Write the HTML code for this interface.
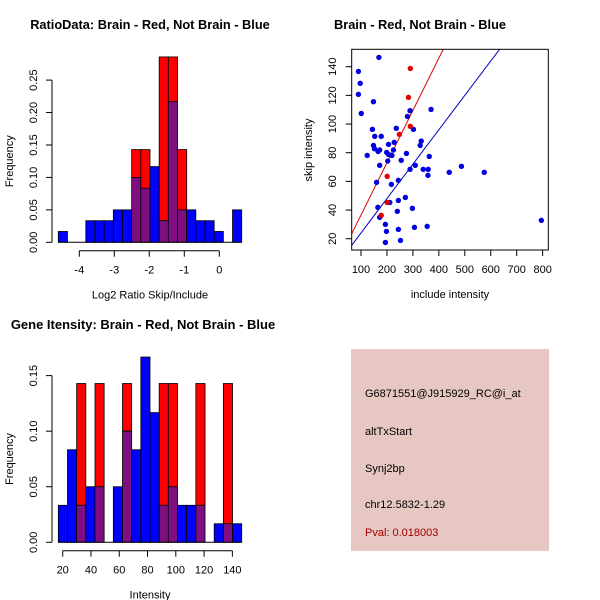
<!DOCTYPE html>
<html><head><meta charset="utf-8"><style>
body{margin:0;background:#fff}
svg{display:block;font-family:"Liberation Sans",sans-serif}
</style></head><body>
<svg id="c" width="600" height="600" viewBox="0 0 600 600">
<rect x="0" y="0" width="600" height="600" fill="#fff"/>
<text x="150" y="29" text-anchor="middle" font-size="12.8" font-weight="bold">RatioData: Brain - Red, Not Brain - Blue</text>
<text x="420" y="29" text-anchor="middle" font-size="12.8" font-weight="bold">Brain - Red, Not Brain - Blue</text>
<text x="143" y="329" text-anchor="middle" font-size="13" font-weight="bold">Gene Itensity: Brain - Red, Not Brain - Blue</text>
<g id="g1"></g>
<g id="g2"></g>
<g id="g3"></g>
<g>
<rect x="351" y="349" width="198" height="202" fill="#e6c7c1"/>
<text x="365" y="397" font-size="11">G6871551@J915929_RC@i_at</text>
<text x="365" y="435" font-size="11">altTxStart</text>
<text x="365" y="472" font-size="11">Synj2bp</text>
<text x="365" y="508" font-size="11">chr12.5832-1.29</text>
<text x="365" y="536" font-size="11" fill="#a00000">Pval: 0.018003</text>
</g>
</svg>
<script>
// Top histogram data
const h1Start = -4.6, h1Width = 0.262;
const h1Blue = [0.0167,0,0,0.0333,0.0333,0.0333,0.05,0.05,0.1,0.0833,0.1167,0.0333,0.2167,0.05,0.05,0.0333,0.0333,0.0167,0,0.05];
const h1Red  = [0,0,0,0,0,0,0,0,0.1429,0.1429,0,0.2857,0.2857,0.1429,0,0,0,0,0,0];
const h1YTicks = ["0.00","0.05","0.10","0.15","0.20","0.25"];
const h1XTicks = ["-4","-3","-2","-1","0"];
// Bottom histogram data
const h3Start = 16.9, h3Width = 6.485;
const h3Blue = [0.0333,0.0833,0.0333,0.05,0.05,0,0.05,0.1,0.0833,0.1667,0.1167,0.0333,0.05,0.0333,0.0333,0.0333,0,0.0167,0.0167,0.0167];
const h3Red  = [0,0,0.1429,0,0.1429,0,0,0.1429,0,0,0,0.1429,0.1429,0,0,0.1429,0,0,0.1429,0];
const h3YTicks = ["0.00","0.05","0.10","0.15"];
const h3XTicks = ["20","40","60","80","100","120","140"];
// Scatter data
const blueX = [169,90,97,90,101,148,370,289,279,236,302,144,153,178,332,228,328,206,148,152,172,225,166,199,206,219,124,275,363,255,203,172,309,487,289,340,359,440,575,358,244,160,217,271,244,211,165,298,240,172,194,795,306,355,198,244,194,252];
const blueY = [146.5,136.7,128.4,120.7,107.4,115.6,110.2,109.3,105.3,97,96.3,96.3,91.4,91.4,88.1,87.2,85.1,85.8,85.1,82.8,81.9,81.9,80.9,80.2,78.8,78.1,78.1,79.5,77.4,74.7,74.2,71.2,71.2,70.5,68.4,68.4,68.4,66.3,66.3,64.2,60.7,59.3,57.9,48.8,46.7,45.3,41.9,41.2,39.1,34.9,30,32.8,27.9,28.6,25.1,26.5,17.4,18.8];
const redX = [290,283,290,248,201,201,178];
const redY = [138.8,118.6,98.4,92.8,63.5,45.3,36.3];
const redSlope = 0.365, blueSlope = 0.24;
const scXTicks = ["100","200","300","400","500","600","700","800"];
const scYTicks = ["20","40","60","80","100","120","140"];

const NS="http://www.w3.org/2000/svg";
function mk(p,t,a){const e=document.createElementNS(NS,t);for(const k in a)e.setAttribute(k,a[k]);p.appendChild(e);return e;}
function txt(p,x,y,s,rot,anchor){const e=mk(p,'text',{x:x,y:y,'font-size':11,'text-anchor':anchor||'middle'});if(rot)e.setAttribute('transform','rotate(-90 '+x+' '+y+')');e.textContent=s;return e;}

function hist(g,start,w,blue,red,yT,xT,xs,ys,yBase,xAxisY,xTickVals,title){
  for(let i=0;i<blue.length;i++){
    const x0=xs(start+i*w), x1=xs(start+(i+1)*w);
    const b=blue[i], r=red[i], lo=Math.min(b,r), hi=Math.max(b,r);
    if(hi>lo){const e=mk(g,'rect',{x:x0,y:ys(hi),width:x1-x0,height:ys(lo)-ys(hi),fill:r>b?'#ff0000':'#0000ff',stroke:'#000','stroke-width':0.8});
      
      }
    if(lo>0){const e=mk(g,'rect',{x:x0,y:ys(lo),width:x1-x0,height:ys(0)-ys(lo),fill:'#7f0f80',stroke:'#000','stroke-width':0.8});
      
      }
  }
  mk(g,'line',{x1:xs(start),x2:xs(start+blue.length*w),y1:ys(0),y2:ys(0),stroke:'#000','stroke-width':1});
  const yv=yT.map(Number);
  mk(g,'line',{x1:52,x2:52,y1:ys(yv[0]),y2:ys(yv[yv.length-1]),stroke:'#000'});
  yT.forEach((s,i)=>{mk(g,'line',{x1:46,x2:52,y1:ys(yv[i]),y2:ys(yv[i]),stroke:'#000'});
    const t=txt(g,37,ys(yv[i]),s,true);
    
    });
  const xv=xT.map(Number);
  mk(g,'line',{x1:xs(xv[0]),x2:xs(xv[xv.length-1]),y1:xAxisY,y2:xAxisY,stroke:'#000'});
  xT.forEach((s,i)=>{mk(g,'line',{x1:xs(xv[i]),x2:xs(xv[i]),y1:xAxisY,y2:xAxisY+6,stroke:'#000'});
    const t=txt(g,xs(xv[i]),xAxisY+23,s);
    
    });
  const yl=txt(g,13,(ys(0)+ys(yv[yv.length-1]))/2,'Frequency',true);
  
  
  const xl=txt(g,150,xAxisY+48,title);
  
  
}
{const g=document.getElementById('g1');
 const xs=v=>219.3+v*35, ys=v=>242.3-v*648.8;
 hist(g,h1Start,h1Width,h1Blue,h1Red,h1YTicks,h1XTicks,xs,ys,242.3,250.7,null,'Log2 Ratio Skip/Include');}
{const g=document.getElementById('g3');
 const xs=v=>62.7+(v-20)*1.4139, ys=v=>542.3-v*1111.3;
 hist(g,h3Start,h3Width,h3Blue,h3Red,h3YTicks,h3XTicks,xs,ys,542.3,550.7,null,'Intensity');}
{const g=document.getElementById('g2');
 const xs=v=>361+(v-100)*0.2595, ys=v=>238.7-(v-20)*1.4333;
 const L=351.7,R=548.3,T=49.3,B=250;
 const cp=mk(g,'clipPath',{id:'cp'});mk(cp,'rect',{x:L,y:T,width:R-L,height:B-T});
 const x0=(L-361)/0.2595+100, x1=(R-361)/0.2595+100;
 let e=mk(g,'line',{x1:xs(x0),y1:ys(redSlope*x0),x2:xs(x1),y2:ys(redSlope*x1),stroke:'#e00000','clip-path':'url(#cp)'});
 
 
 e=mk(g,'line',{x1:xs(x0),y1:ys(blueSlope*x0),x2:xs(x1),y2:ys(blueSlope*x1),stroke:'#0000c0','clip-path':'url(#cp)'});
 
 
 blueX.forEach((x,i)=>{const c=mk(g,'circle',{cx:xs(x),cy:ys(blueY[i]),r:2.7,fill:'#0000e0'});
   
   });
 redX.forEach((x,i)=>{const c=mk(g,'circle',{cx:xs(x),cy:ys(redY[i]),r:2.7,fill:'#e00000'});
   
   });
 mk(g,'rect',{x:L,y:T,width:R-L,height:B-T,fill:'none',stroke:'#000'});
 scXTicks.forEach(s=>{const v=Number(s);mk(g,'line',{x1:xs(v),x2:xs(v),y1:B,y2:B+6,stroke:'#000'});
   const t=txt(g,xs(v),B+23,s);
   
   });
 scYTicks.forEach(s=>{const v=Number(s);mk(g,'line',{x1:L-6,x2:L,y1:ys(v),y2:ys(v),stroke:'#000'});
   const t=txt(g,336,ys(v),s,true);
   
   });
 let t=txt(g,450,298,'include intensity');
 
 
 t=txt(g,312,150,'skip intensity',true);
 
 }
</script>
</body></html>
